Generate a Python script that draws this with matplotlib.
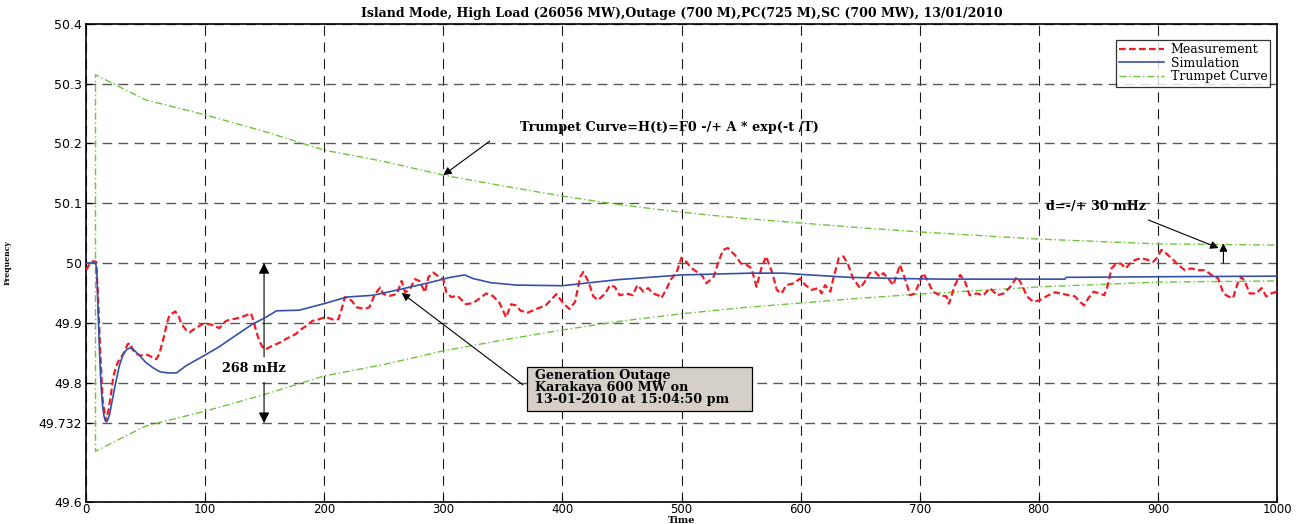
import matplotlib
matplotlib.use("Agg")
import matplotlib.pyplot as plt
from matplotlib.patches import Rectangle
import numpy as np

# ---------------------------------------------------------------- data
chart_title = ("Island Mode, High Load (26056 MW),Outage (700 M),"
               "PC(725 M),SC (700 MW), 13/01/2010")

# recorded frequency (Hz) vs time (s)
meas_time = [0, 3, 6, 8.5, 10, 12, 14, 16.8, 19, 21, 23, 25, 27, 29.4, 32, 35,
             37, 39, 42, 46, 50, 53, 56, 59, 61.6, 64, 66, 68, 70, 72, 75, 78,
             80, 84, 87, 92, 99, 105, 112, 117.5, 121, 126, 130, 134, 138.5,
             141, 143, 145.5, 148, 150.6, 155, 159.5, 164, 168, 172, 176, 180,
             185, 190, 196, 200,
             202, 208, 211.9, 214.7, 217.4, 223, 227, 234, 238, 242.6, 247,
             249.6, 255, 261, 265, 268, 272, 276, 280, 284.6, 287.4, 291.6,
             297, 300, 302.5, 306.7, 312, 319, 325, 330, 336, 341.5, 347,
             352.7, 357, 361, 365, 371, 378, 386, 395, 399,
             402, 406, 410.6, 415, 417.6, 421.8, 426, 430, 436, 440, 444, 448,
             454, 459, 463, 468, 472, 476, 480.5, 483, 487, 491, 496, 500,
             504, 508.6, 513, 517, 521, 527, 531, 535, 539, 545, 550, 554.6,
             558.8, 563, 567, 571, 576, 580, 584, 588, 594, 599.6,
             604, 609.5, 615, 617.7, 620.5, 625, 627.5, 632, 636, 640, 644,
             650, 654, 658, 662.5, 666.6, 669.5, 673.7, 677.8, 682, 683.4,
             687.6, 692, 696, 700, 703, 707, 711, 717, 722.6, 724.6, 729.6,
             734, 738, 742, 748, 753.5, 759, 765, 770.5, 776, 781.8, 786, 790,
             795.6, 801,
             808, 813.6, 819, 825, 830.4, 834.6, 838, 841.6, 846, 851, 855,
             858, 861, 865, 869, 873, 876.5, 880.7, 886, 892, 896, 899, 903,
             907, 913, 917, 922.6, 928, 934, 939.5, 945, 950.7, 955, 959, 963,
             967, 970, 973, 977, 982.5, 987, 991, 995, 1000]
meas_freq = [49.988, 49.998, 50.003, 50.002, 49.95, 49.85, 49.77, 49.736,
             49.755, 49.781, 49.81, 49.825, 49.835, 49.842, 49.85, 49.864,
             49.866, 49.856, 49.848, 49.845, 49.847, 49.845, 49.842, 49.839,
             49.848, 49.866, 49.881, 49.9, 49.912, 49.915, 49.919, 49.91,
             49.898, 49.888, 49.884, 49.891, 49.899, 49.897, 49.891, 49.903,
             49.905, 49.907, 49.909, 49.912, 49.916, 49.901, 49.885, 49.87,
             49.86, 49.855, 49.86, 49.864, 49.868, 49.873, 49.877, 49.881,
             49.888, 49.895, 49.903, 49.906, 49.909,
             49.909, 49.905, 49.906, 49.923, 49.943, 49.937, 49.926, 49.923,
             49.926, 49.948, 49.959, 49.948, 49.945, 49.948, 49.97, 49.951,
             49.956, 49.973, 49.97, 49.951, 49.976, 49.984, 49.976, 49.973,
             49.951, 49.943, 49.945, 49.931, 49.933, 49.94, 49.949, 49.945,
             49.934, 49.909, 49.931, 49.929, 49.92, 49.917, 49.923, 49.929,
             49.948, 49.937,
             49.93, 49.923, 49.935, 49.977, 49.985, 49.969, 49.944, 49.938,
             49.949, 49.963, 49.96, 49.946, 49.949, 49.946, 49.963, 49.952,
             49.958, 49.949, 49.946, 49.941, 49.955, 49.972, 49.985, 50.009,
             50.002, 49.991, 49.985, 49.98, 49.966, 49.977, 50.002, 50.022,
             50.025, 50.013, 49.999, 49.997, 49.991, 49.96, 49.991, 50.011,
             49.985, 49.955, 49.949, 49.963, 49.966, 49.974,
             49.963, 49.955, 49.958, 49.949, 49.963, 49.952, 49.974, 50.008,
             50.011, 49.997, 49.974, 49.958, 49.969, 49.983, 49.985, 49.977,
             49.983, 49.974, 49.963, 49.988, 49.997, 49.974, 49.946, 49.949,
             49.969, 49.983, 49.969, 49.952, 49.946, 49.944, 49.932, 49.963,
             49.98, 49.969, 49.946, 49.949, 49.946, 49.958, 49.946, 49.949,
             49.96, 49.977, 49.963, 49.944, 49.935, 49.938,
             49.946, 49.951, 49.949, 49.946, 49.944, 49.935, 49.929, 49.941,
             49.952, 49.949, 49.946, 49.963, 49.991, 49.999, 49.999, 49.991,
             49.999, 50.005, 50.008, 50.005, 50.002, 50.008, 50.022, 50.016,
             50.005, 49.997, 49.988, 49.991, 49.988, 49.988, 49.98, 49.974,
             49.949, 49.944, 49.941, 49.966, 49.977, 49.969, 49.949, 49.949,
             49.958, 49.944, 49.949, 49.952]

# simulated frequency (Hz) vs time (s)
sim_time = [0, 8, 9, 10, 11, 12, 13, 14, 15, 16, 17, 18, 20, 22, 25, 28, 31,
            34, 37, 40, 45, 50, 56, 62, 69, 76, 84, 100, 112, 120, 140, 150,
            160, 179, 200, 219, 241, 264, 290, 306, 318, 325, 340, 362, 400,
            446, 500, 558, 586, 600, 641, 683, 720, 822, 823, 900, 1000]
sim_freq = [50.0, 50.0, 49.99, 49.93, 49.87, 49.82, 49.785, 49.76, 49.745,
            49.737, 49.734, 49.736, 49.748, 49.77, 49.8, 49.828, 49.846,
            49.855, 49.858, 49.855, 49.845, 49.834, 49.825, 49.818, 49.816,
            49.816, 49.828, 49.846, 49.86, 49.871, 49.898, 49.908, 49.92,
            49.921, 49.932, 49.943, 49.946, 49.956, 49.968, 49.976, 49.98,
            49.974, 49.967, 49.963, 49.962, 49.972, 49.98, 49.983, 49.983,
            49.981, 49.976, 49.974, 49.973, 49.973, 49.976, 49.977, 49.978]

# trumpet envelope: half-width (Hz) around 50 Hz vs time (s)
trumpet_time = [0, 8, 8, 50, 100, 150, 200, 250, 300, 350, 400, 450, 500,
                550, 600, 650, 700, 750, 800, 850, 900, 950, 1000]
trumpet_dev = [0.0, 0.0, 0.315, 0.273, 0.248, 0.22, 0.189, 0.17, 0.147, 0.129,
               0.112, 0.097, 0.085, 0.075, 0.067, 0.059, 0.052, 0.046, 0.04,
               0.036, 0.032, 0.031, 0.03]
nominal_freq = 50.0

x_ticks = [0, 100, 200, 300, 400, 500, 600, 700, 800, 900, 1000]
y_ticks = [49.6, 49.732, 49.8, 49.9, 50.0, 50.1, 50.2, 50.3, 50.4]
y_tick_labels = ["49.6", "49.732", "49.8", "49.9", "50", "50.1", "50.2",
                 "50.3", "50.4"]

# ---------------------------------------------------------------- style
RED = "#f01c24"
BLUE = "#3550a8"
GREEN = "#6cc53c"
SERIF = "DejaVu Serif"
SANS = "DejaVu Sans"

fig = plt.figure(figsize=(13.06, 5.24), dpi=100)
ax = fig.add_axes([86 / 1306, 22 / 524, 1191 / 1306, 478 / 524])

ax.plot(meas_time, meas_freq, color=RED, lw=1.6, ls=(0, (3, 1.5)),
        label="Measurement", zorder=3)
ax.plot(sim_time, sim_freq, color=BLUE, lw=1.2, label="Simulation", zorder=4)
t_arr = np.array(trumpet_time)
d_arr = np.array(trumpet_dev)
ax.plot(t_arr, nominal_freq + d_arr, color=GREEN, lw=1.0,
        ls=(0, (5, 2, 1, 2)), label="Trumpet Curve", zorder=2)
ax.plot(t_arr, nominal_freq - d_arr, color=GREEN, lw=1.0,
        ls=(0, (5, 2, 1, 2)), zorder=2)

ax.set_xlim(0, 1000)
ax.set_ylim(49.6, 50.4)
ax.set_xticks(x_ticks)
ax.set_xticklabels([str(v) for v in x_ticks])
ax.set_yticks(y_ticks)
ax.set_yticklabels(y_tick_labels)
ax.tick_params(direction="in", length=4, width=0.8, labelsize=9, pad=3)
ax.tick_params(axis="x", pad=1, labelsize=8.5)
for lab in ax.get_xticklabels() + ax.get_yticklabels():
    lab.set_fontfamily(SANS)

ax.xaxis.grid(True, color="0.1", lw=0.8, ls=(0, (9, 6)))
ax.yaxis.grid(True, color="0.35", lw=1.0, ls=(0, (7, 4.5)))
ax.set_axisbelow(True)
for sp in ax.spines.values():
    sp.set_linewidth(1.2)
    sp.set_color("black")

ax.set_title(chart_title, family=SERIF, fontweight="bold", fontsize=9,
             pad=5)
ax.set_xlabel("Time", family=SERIF, fontweight="bold", fontsize=7)
ax.xaxis.set_label_coords(0.5, -0.0285)
ax.set_ylabel("Frequency", family=SERIF, fontweight="bold", fontsize=5.5)
ax.yaxis.set_label_coords(-0.0625, 0.5)

leg = ax.legend(loc="upper right", bbox_to_anchor=(0.9945, 0.9665),
                prop={"family": SERIF, "size": 9}, frameon=True,
                fancybox=False, handlelength=3.6, handletextpad=0.5,
                labelspacing=0.05, borderpad=0.25, borderaxespad=0.0)
leg.get_frame().set_edgecolor("black")
leg.get_frame().set_linewidth(0.9)

# ---------------------------------------------------------------- notes
ann_font = dict(family=SERIF, fontweight="bold", fontsize=9.2)
head = dict(arrowstyle="-|>", color="black", lw=0.8, mutation_scale=12,
            shrinkA=0, shrinkB=0)

ax.annotate("", xy=(300, 50.147), xytext=(339, 50.204), arrowprops=head)
ax.text(364, 50.226, "Trumpet Curve=H(t)=F0 -/+ A * exp(-t /T)",
        va="center", ha="left", **ann_font)

ax.text(806, 50.094, "d=-/+ 30 mHz", va="center", ha="left", **ann_font)
ax.annotate("", xy=(951, 50.025), xytext=(892, 50.072), arrowprops=head)
ax.annotate("", xy=(955, 50.033), xytext=(955, 50.0), arrowprops=head)

ax.text(140.6, 49.824, "268 mHz", va="center", ha="center", **ann_font)
big_head = dict(head, mutation_scale=16)
ax.annotate("", xy=(149.5, 50.0), xytext=(149.5, 49.843), arrowprops=big_head)
ax.annotate("", xy=(149.5, 49.732), xytext=(149.5, 49.8), arrowprops=big_head)

ax.add_patch(Rectangle((370, 49.7523), 189.2, 0.0737, facecolor="#d4d0c8",
                       edgecolor="black", lw=0.9, zorder=5))
ax.text(377, 49.8225, "Generation Outage\nKarakaya 600 MW on\n"
        "13-01-2010 at 15:04:50 pm", va="top", ha="left", zorder=6,
        linespacing=0.92, **ann_font)
ax.annotate("", xy=(265, 49.95), xytext=(367, 49.796), arrowprops=head)

fig.savefig("out.png", dpi=100)
